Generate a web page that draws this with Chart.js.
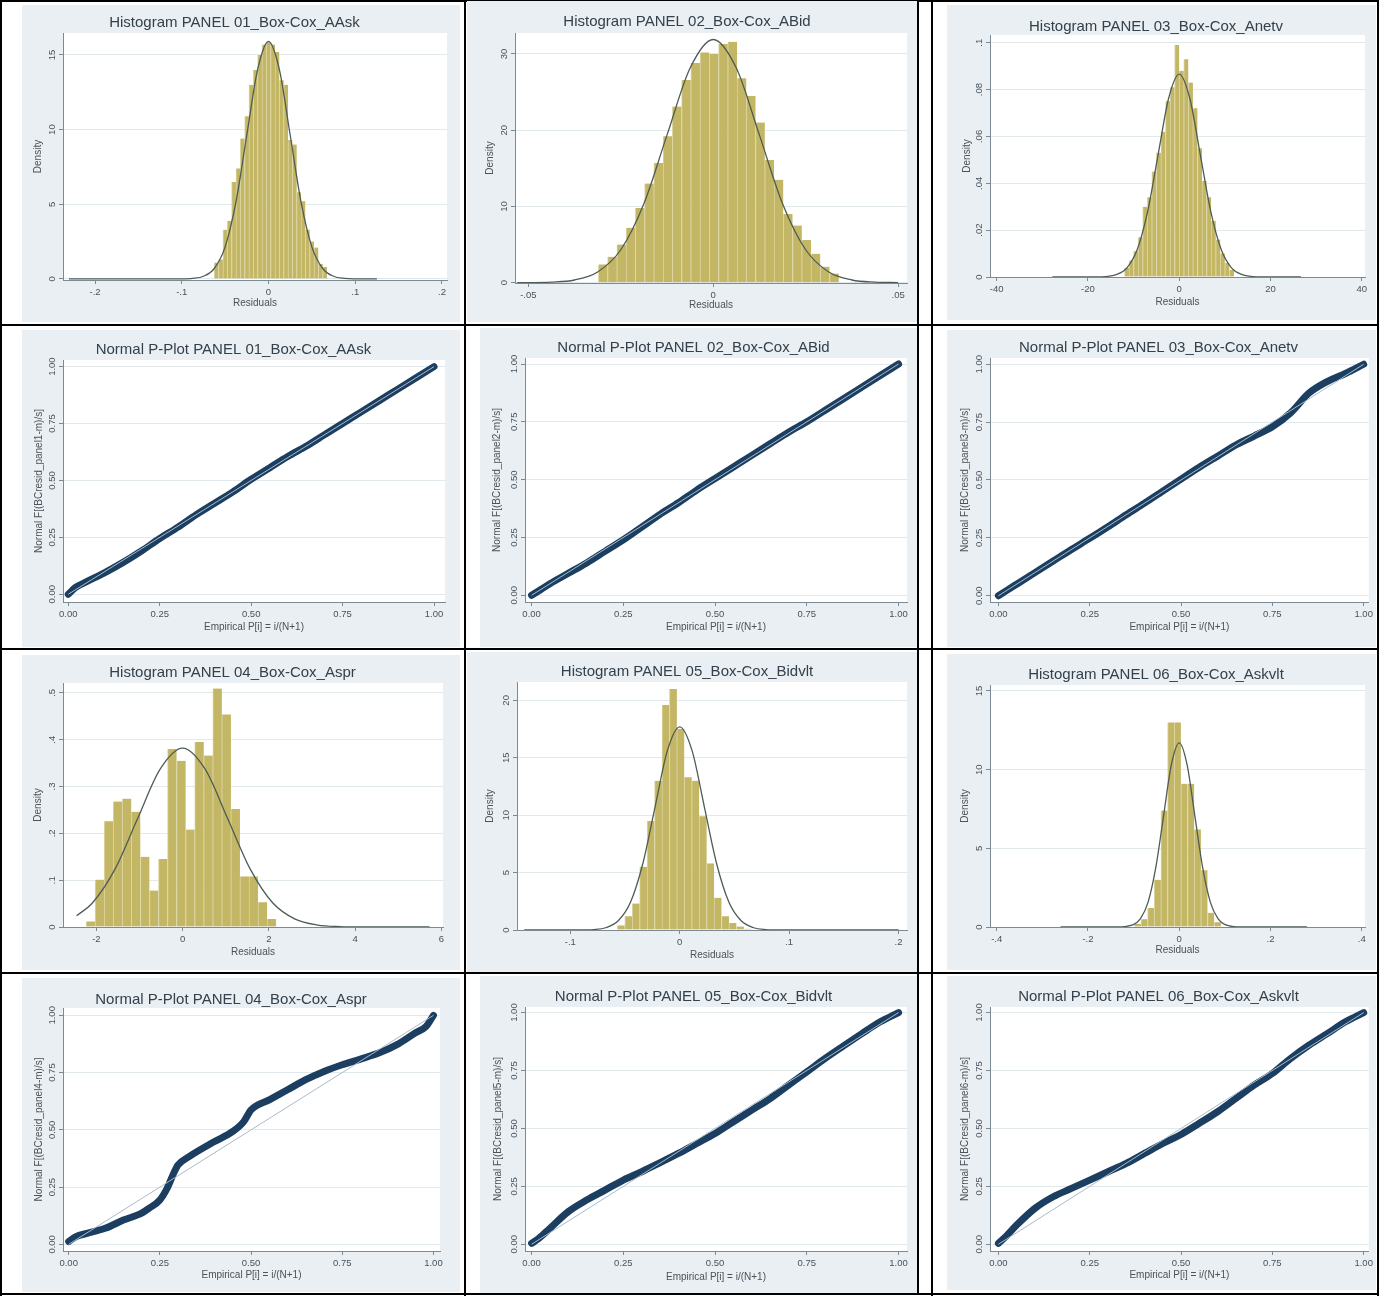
<!DOCTYPE html>
<html>
<head>
<meta charset="utf-8">
<title>Box-Cox residual diagnostics</title>
<script src="https://cdn.jsdelivr.net/npm/chart.js@4.4.1/dist/chart.umd.min.js"></script>
<style>
  html, body { margin: 0; padding: 0; background: #fff; }
  #page { position: relative; width: 1384px; height: 1296px; overflow: hidden; background: #fff; }
  .rule { position: absolute; background: #000; }
  .panel { position: absolute; background: #e9eff2; }
  .panel canvas { display: block; }
</style>
</head>
<body>
<div id="page"></div>
<script>
// ---- histogram data (bar centres, densities) and fitted normal curve ----
const hist1Centers = [-0.060, -0.055, -0.050, -0.045, -0.040, -0.035, -0.030, -0.025, -0.020, -0.015, -0.010, -0.005, 0, 0.005, 0.010, 0.015, 0.020, 0.025, 0.030, 0.035, 0.040, 0.045, 0.050, 0.055, 0.060, 0.065];
const hist1Density = [1.1, 1.3, 3.3, 3.9, 6.5, 7.4, 9.4, 10.9, 13.0, 14.0, 15.0, 15.7, 15.8, 15.7, 15.2, 13.3, 13.0, 9.3, 9.0, 5.8, 5.2, 3.3, 2.5, 2.1, 1.0, 0.8];
const curve1X = [-0.23, -0.1, -0.0875, -0.075, -0.0625, -0.05, -0.0375, -0.025, -0.0125, 0, 0.0125, 0.025, 0.0375, 0.05, 0.0625, 0.075, 0.0875, 0.1, 0.125];
const curve1Y = [0, 0.005, 0.035, 0.18, 0.70, 2.15, 5.16, 9.64, 14.03, 15.9, 14.03, 9.64, 5.16, 2.15, 0.70, 0.18, 0.035, 0.005, 0];

const hist2Centers = [-0.0298, -0.0273, -0.0248, -0.0223, -0.0198, -0.0173, -0.0148, -0.0123, -0.0098, -0.0073, -0.0048, -0.0023, 0.0002, 0.0027, 0.0052, 0.0077, 0.0102, 0.0127, 0.0152, 0.0177, 0.0202, 0.0227, 0.0252, 0.0277, 0.0302, 0.0327];
const hist2Density = [2.4, 3.4, 5.0, 7.2, 9.8, 13.0, 15.7, 19.2, 23.1, 26.6, 28.8, 30.2, 30.0, 31.3, 31.6, 26.8, 24.5, 21.0, 16.1, 13.5, 9.0, 7.5, 5.6, 3.8, 2.1, 1.2];
const curve2X = [-0.053, -0.05, -0.04375, -0.0375, -0.03125, -0.025, -0.01875, -0.0125, -0.00625, 0, 0.00625, 0.0125, 0.01875, 0.025, 0.03125, 0.0375, 0.04375, 0.05];
const curve2Y = [0.002, 0.011, 0.070, 0.354, 1.40, 4.32, 10.36, 19.35, 28.15, 31.9, 28.15, 19.35, 10.36, 4.32, 1.40, 0.354, 0.070, 0.011];

const hist3Centers = [-11.5, -10.5, -9.5, -8.5, -7.5, -6.5, -5.5, -4.5, -3.5, -2.5, -1.5, -0.5, 0.5, 1.5, 2.5, 3.5, 4.5, 5.5, 6.5, 7.5, 8.5, 9.5, 10.5, 11.5];
const hist3Density = [0.004, 0.007, 0.011, 0.017, 0.030, 0.034, 0.045, 0.053, 0.062, 0.075, 0.081, 0.099, 0.088, 0.093, 0.083, 0.072, 0.055, 0.041, 0.034, 0.024, 0.016, 0.010, 0.006, 0.003];
const curve3X = [-27.8, -18.4, -16.1, -13.8, -11.5, -9.2, -6.9, -4.6, -2.3, 0, 2.3, 4.6, 6.9, 9.2, 11.5, 13.8, 16.1, 18.4, 26.7];
const curve3Y = [0, 0.00003, 0.0002, 0.001, 0.0038, 0.0117, 0.0281, 0.0525, 0.0764, 0.0866, 0.0764, 0.0525, 0.0281, 0.0117, 0.0038, 0.001, 0.0002, 0.00003, 0];

const hist4Centers = [-2.135, -1.925, -1.715, -1.505, -1.295, -1.085, -0.875, -0.665, -0.455, -0.245, -0.035, 0.175, 0.385, 0.595, 0.805, 1.015, 1.225, 1.435, 1.645, 1.855, 2.065];
const hist4Density = [0.012, 0.101, 0.226, 0.268, 0.274, 0.246, 0.150, 0.078, 0.145, 0.380, 0.355, 0.208, 0.395, 0.366, 0.509, 0.454, 0.252, 0.108, 0.108, 0.053, 0.017];
const curve4X = [-2.46, -2.088, -1.566, -1.044, -0.522, 0, 0.522, 1.044, 1.566, 2.088, 2.61, 3.132, 3.654, 4.176, 5.73];
const curve4Y = [0.024, 0.0517, 0.124, 0.2317, 0.337, 0.382, 0.337, 0.2317, 0.124, 0.0517, 0.0168, 0.0042, 0.00084, 0.00012, 0];

const hist5Centers = [-0.0536, -0.0468, -0.0400, -0.0332, -0.0264, -0.0196, -0.0128, -0.0060, 0.0008, 0.0076, 0.0144, 0.0212, 0.0280, 0.0348, 0.0416, 0.0484, 0.0552, 0.0620];
const hist5Density = [0.4, 1.2, 2.3, 5.5, 9.5, 13.0, 19.6, 21.0, 17.5, 13.3, 13.0, 9.9, 5.8, 2.8, 1.2, 0.6, 0.3, 0.1];
const curve5X = [-0.142, -0.0902, -0.0789, -0.0676, -0.0564, -0.0451, -0.0338, -0.0225, -0.0113, 0, 0.0113, 0.0225, 0.0338, 0.0451, 0.0564, 0.0676, 0.0789, 0.0902, 0.2];
const curve5Y = [0, 0.006, 0.039, 0.196, 0.777, 2.39, 5.75, 10.73, 15.62, 17.7, 15.62, 10.73, 5.75, 2.39, 0.777, 0.196, 0.039, 0.006, 0];

const hist6Centers = [-0.091, -0.0765, -0.062, -0.0474, -0.0328, -0.0182, -0.0036, 0.011, 0.0256, 0.0402, 0.0548, 0.0694, 0.084];
const hist6Density = [0.2, 0.5, 1.2, 3.0, 7.4, 13.0, 13.0, 9.1, 9.1, 6.2, 3.6, 0.9, 0.3];
const curve6X = [-0.26, -0.1364, -0.1194, -0.1023, -0.0853, -0.0682, -0.0512, -0.0341, -0.0171, 0, 0.0171, 0.0341, 0.0512, 0.0682, 0.0853, 0.1023, 0.1194, 0.1364, 0.28];
const curve6Y = [0, 0.004, 0.026, 0.130, 0.514, 1.58, 3.80, 7.10, 10.33, 11.7, 10.33, 7.10, 3.80, 1.58, 0.514, 0.130, 0.026, 0.004, 0];

// ---- normal probability plots: empirical P vs normal F ----
const ppEmpirical = [0, 0.02, 0.05, 0.1, 0.15, 0.2, 0.25, 0.3, 0.35, 0.4, 0.45, 0.5, 0.55, 0.6, 0.65, 0.7, 0.75, 0.8, 0.85, 0.9, 0.95, 1.0];
const pp1Normal = [0.0, 0.03, 0.055, 0.095, 0.14, 0.19, 0.245, 0.295, 0.35, 0.4, 0.45, 0.505, 0.555, 0.605, 0.65, 0.70, 0.75, 0.8, 0.85, 0.9, 0.95, 1.0];
const pp2Normal = [0.0, 0.02, 0.05, 0.095, 0.14, 0.19, 0.24, 0.295, 0.35, 0.4, 0.455, 0.505, 0.555, 0.605, 0.655, 0.705, 0.75, 0.8, 0.85, 0.9, 0.95, 1.0];
const pp3Normal = [0.0, 0.02, 0.05, 0.1, 0.15, 0.2, 0.248, 0.298, 0.35, 0.4, 0.452, 0.504, 0.555, 0.603, 0.651, 0.69, 0.73, 0.79, 0.875, 0.925, 0.96, 1.0];
const pp4Empirical = [0, 0.02, 0.05, 0.1, 0.15, 0.2, 0.22, 0.25, 0.27, 0.29, 0.3, 0.33, 0.4, 0.45, 0.48, 0.5, 0.55, 0.6, 0.65, 0.7, 0.75, 0.8, 0.85, 0.9, 0.95, 0.98, 1.0];
const pp4Normal = [0.012, 0.034, 0.048, 0.07, 0.106, 0.136, 0.157, 0.194, 0.245, 0.318, 0.347, 0.383, 0.449, 0.493, 0.536, 0.587, 0.631, 0.675, 0.719, 0.755, 0.784, 0.809, 0.835, 0.872, 0.923, 0.952, 1.0];
const pp5Normal = [0.004, 0.026, 0.069, 0.141, 0.191, 0.234, 0.277, 0.313, 0.352, 0.392, 0.435, 0.478, 0.529, 0.579, 0.629, 0.687, 0.744, 0.802, 0.856, 0.909, 0.96, 1.0];
const pp6Normal = [0.004, 0.033, 0.083, 0.155, 0.205, 0.241, 0.277, 0.313, 0.349, 0.392, 0.435, 0.474, 0.522, 0.572, 0.629, 0.687, 0.737, 0.802, 0.859, 0.909, 0.96, 1.0];
const refLine = [0, 1];

// ---- axis ticks ----
const ppTicks = [0, 0.25, 0.5, 0.75, 1];
const ppTickLabels = ['0.00', '0.25', '0.50', '0.75', '1.00'];
const hist1XTicks = [-0.2, -0.1, 0, 0.1, 0.2];
const hist1XLabels = ['-.2', '-.1', '0', '.1', '.2'];
const hist1YTicks = [0, 5, 10, 15];
const hist2XTicks = [-0.05, 0, 0.05];
const hist2XLabels = ['-.05', '0', '.05'];
const hist2YTicks = [0, 10, 20, 30];
const hist3XTicks = [-40, -20, 0, 20, 40];
const hist3YTicks = [0, 0.02, 0.04, 0.06, 0.08, 0.1];
const hist3YLabels = ['0', '.02', '.04', '.06', '.08', '.1'];
const hist4XTicks = [-2, 0, 2, 4, 6];
const hist4YTicks = [0, 0.1, 0.2, 0.3, 0.4, 0.5];
const hist4YLabels = ['0', '.1', '.2', '.3', '.4', '.5'];
const hist5XTicks = [-0.1, 0, 0.1, 0.2];
const hist5XLabels = ['-.1', '0', '.1', '.2'];
const hist5YTicks = [0, 5, 10, 15, 20];
const hist6XTicks = [-0.4, -0.2, 0, 0.2, 0.4];
const hist6XLabels = ['-.4', '-.2', '0', '.2', '.4'];
const hist6YTicks = [0, 5, 10, 15];

// ---- look ----
const FONT = '"Liberation Sans", Arial, Helvetica, sans-serif';
const TITLE_SIZE = 15;
const TICK_SIZE = 9.5;
const AXTITLE_SIZE = 10;
const TICK_LEN = 4;
const Y_LABEL_GAP = 11;
const AXIS_COLOR = '#7d8a93';
const GRID_COLOR = '#e1e9ed';
const TEXT_COLOR = '#4a525a';
const TITLE_COLOR = '#34404b';
const BAR_FILL = '#c3b665';
const BAR_EDGE = '#ddd5a0';
const CURVE_COLOR = '#4e5c55';
const PP_COLOR = '#1c3f61';
const REF_COLOR = '#a8bccb';

const pageEl = document.getElementById('page');
const measureCtx = document.createElement('canvas').getContext('2d');
function textWidth(s, size) {
    measureCtx.font = size + 'px ' + FONT;
    return measureCtx.measureText(s).width;
}

function addRule(x, y, w, h) {
    const d = document.createElement('div');
    d.className = 'rule';
    Object.assign(d.style, { left: x + 'px', top: y + 'px', width: w + 'px', height: h + 'px' });
    pageEl.appendChild(d);
}

function points(xs, ys) {
    return xs.map((x, i) => ({ x: x, y: ys[i] }));
}

// white plot region like Stata's plotregion
const plotRegionFill = {
    id: 'plotRegionFill',
    beforeDraw(chart) {
        const a = chart.chartArea;
        const ctx = chart.ctx;
        ctx.save();
        ctx.fillStyle = '#ffffff';
        ctx.fillRect(a.left, a.top, a.right - a.left, a.bottom - a.top);
        ctx.restore();
    }
};

function makePanel(p) {
    const [bx, by, bw, bh] = p.box;
    const [pl, pt, pr, pb] = p.plot;

    const wrap = document.createElement('div');
    wrap.className = 'panel';
    Object.assign(wrap.style, { left: bx + 'px', top: by + 'px', width: bw + 'px', height: bh + 'px' });
    const canvas = document.createElement('canvas');
    canvas.width = bw;
    canvas.height = bh;
    wrap.appendChild(canvas);
    pageEl.appendChild(wrap);

    const titleTop = (p.titleY - by) - TITLE_SIZE / 2;
    const titleBottom = Math.max(0, (pt - by) - TITLE_SIZE - titleTop);
    const axLH = AXTITLE_SIZE * 1.2;
    const xTitlePad = (by + bh) - p.xTitleY - axLH / 2;
    const yTitlePad = (p.yTitleX - bx) - axLH / 2;
    const widest = Math.max(...p.yLabels.map(s => textWidth(s, TICK_SIZE)));
    const yTickPad = Y_LABEL_GAP - TICK_LEN - widest / 2;

    const tickFont = { family: FONT, size: TICK_SIZE };
    const axTitleFont = { family: FONT, size: AXTITLE_SIZE };

    const config = {
        type: p.kind === 'hist' ? 'bar' : 'line',
        data: { datasets: p.datasets },
        options: {
            responsive: false,
            animation: false,
            events: [],
            layout: { padding: { left: 0, top: 0, bottom: 0, right: (bx + bw) - pr } },
            plugins: {
                legend: { display: false },
                tooltip: { enabled: false },
                title: {
                    display: true,
                    text: p.title,
                    color: TITLE_COLOR,
                    font: { family: FONT, size: TITLE_SIZE, weight: 'normal', lineHeight: 1 },
                    padding: { top: titleTop, bottom: titleBottom }
                }
            },
            scales: {
                x: {
                    type: 'linear',
                    min: p.xRange[0],
                    max: p.xRange[1],
                    offset: false,
                    afterBuildTicks: s => { s.ticks = p.xTicks.map(v => ({ value: v })); },
                    afterFit: s => { s.height = (by + bh) - pb; },
                    ticks: {
                        autoSkip: false, maxRotation: 0, color: TEXT_COLOR, font: tickFont, padding: 3,
                        callback: (v, i) => p.xLabels[i]
                    },
                    grid: { offset: false, drawOnChartArea: false, drawTicks: true, tickLength: TICK_LEN, tickColor: AXIS_COLOR },
                    border: { display: true, color: AXIS_COLOR },
                    title: { display: true, text: p.xTitle, color: TEXT_COLOR, font: axTitleFont, padding: { top: 0, bottom: xTitlePad } }
                },
                y: {
                    type: 'linear',
                    min: p.yRange[0],
                    max: p.yRange[1],
                    afterBuildTicks: s => { s.ticks = p.yTicks.map(v => ({ value: v })); },
                    afterFit: s => { s.width = pl - bx; },
                    ticks: {
                        autoSkip: false, minRotation: 90, maxRotation: 90, crossAlign: 'center',
                        color: TEXT_COLOR, font: tickFont, padding: yTickPad,
                        callback: (v, i) => p.yLabels[i]
                    },
                    grid: { color: GRID_COLOR, drawTicks: true, tickLength: TICK_LEN, tickColor: AXIS_COLOR },
                    border: { display: true, color: AXIS_COLOR },
                    title: { display: true, text: p.yTitle, color: TEXT_COLOR, font: axTitleFont, padding: { top: yTitlePad, bottom: 0 } }
                }
            }
        },
        plugins: [plotRegionFill]
    };
    return new Chart(canvas.getContext('2d'), config);
}

function histDatasets(centers, density, cx, cy) {
    return [
        {
            type: 'line', data: points(cx, cy), order: 0,
            borderColor: CURVE_COLOR, borderWidth: 1.3, pointRadius: 0,
            cubicInterpolationMode: 'monotone', fill: false
        },
        {
            type: 'bar', data: points(centers, density), order: 1,
            backgroundColor: BAR_FILL, borderColor: BAR_EDGE,
            borderWidth: { left: 1, right: 0, top: 0, bottom: 0 }, borderSkipped: false,
            barPercentage: 1, categoryPercentage: 1
        }
    ];
}

function ppDatasets(xs, ys) {
    return [
        {
            data: points(refLine, refLine), order: 0,
            borderColor: REF_COLOR, borderWidth: 1, pointRadius: 0, fill: false
        },
        {
            data: points(xs, ys), order: 1,
            borderColor: PP_COLOR, borderWidth: 7, pointRadius: 0, fill: false,
            cubicInterpolationMode: 'monotone', borderCapStyle: 'round', borderJoinStyle: 'round'
        }
    ];
}

// ---- table rules ----
addRule(0, 0, 1379, 2);
addRule(0, 324, 1379, 2);
addRule(0, 648, 1379, 2);
addRule(0, 972, 1379, 2);
addRule(0, 1293, 1379, 2);
addRule(0, 0, 2, 1296);
addRule(464, 0, 2, 1296);
addRule(931, 0, 2, 1296);
addRule(1377, 0, 2, 1296);

const histX = 'Residuals', histY = 'Density';
const ppX = 'Empirical P[i] = i/(N+1)';
const numLabels = arr => arr.map(v => String(v));

const panels = [
    { kind: 'hist', title: 'Histogram PANEL 01_Box-Cox_AAsk', box: [22, 5, 438, 317], plot: [63, 33, 447, 280],
      titleY: 23, xTitleY: 303, yTitleX: 38, xRange: [-0.2369, 0.2058], yRange: [-0.07, 16.47],
      xTicks: hist1XTicks, xLabels: hist1XLabels, yTicks: hist1YTicks, yLabels: numLabels(hist1YTicks),
      xTitle: histX, yTitle: histY, datasets: histDatasets(hist1Centers, hist1Density, curve1X, curve1Y) },
    { kind: 'hist', title: 'Histogram PANEL 02_Box-Cox_ABid', box: [467, 1, 450, 321], plot: [515, 33, 907, 283],
      titleY: 22, xTitleY: 305, yTitleX: 490, xRange: [-0.0536, 0.0524], yRange: [-0.04, 32.75],
      xTicks: hist2XTicks, xLabels: hist2XLabels, yTicks: hist2YTicks, yLabels: numLabels(hist2YTicks),
      xTitle: histX, yTitle: histY, datasets: histDatasets(hist2Centers, hist2Density, curve2X, curve2Y) },
    { kind: 'hist', title: 'Histogram PANEL 03_Box-Cox_Anetv', box: [947, 5, 429, 315], plot: [990, 35, 1365, 277],
      titleY: 27, xTitleY: 302, yTitleX: 967, xRange: [-41.47, 40.72], yRange: [0, 0.1033],
      xTicks: hist3XTicks, xLabels: numLabels(hist3XTicks), yTicks: hist3YTicks, yLabels: hist3YLabels,
      xTitle: histX, yTitle: histY, datasets: histDatasets(hist3Centers, hist3Density, curve3X, curve3Y) },

    { kind: 'pp', title: 'Normal P-Plot PANEL 01_Box-Cox_AAsk', box: [22, 330, 438, 317], plot: [63, 360, 445, 602],
      titleY: 350, xTitleY: 627, yTitleX: 39, xRange: [-0.0145, 1.03], yRange: [-0.034, 1.029],
      xTicks: ppTicks, xLabels: ppTickLabels, yTicks: ppTicks, yLabels: ppTickLabels,
      xTitle: ppX, yTitle: 'Normal F[(BCresid_panel1-m)/s]', datasets: ppDatasets(ppEmpirical, pp1Normal) },
    { kind: 'pp', title: 'Normal P-Plot PANEL 02_Box-Cox_ABid', box: [480, 328, 437, 319], plot: [525, 358, 907, 602],
      titleY: 348, xTitleY: 627, yTitleX: 497, xRange: [-0.018, 1.023], yRange: [-0.029, 1.026],
      xTicks: ppTicks, xLabels: ppTickLabels, yTicks: ppTicks, yLabels: ppTickLabels,
      xTitle: ppX, yTitle: 'Normal F[(BCresid_panel2-m)/s]', datasets: ppDatasets(ppEmpirical, pp2Normal) },
    { kind: 'pp', title: 'Normal P-Plot PANEL 03_Box-Cox_Anetv', box: [947, 330, 429, 317], plot: [990, 358, 1370, 602],
      titleY: 348, xTitleY: 627, yTitleX: 965, xRange: [-0.023, 1.014], yRange: [-0.027, 1.027],
      xTicks: ppTicks, xLabels: ppTickLabels, yTicks: ppTicks, yLabels: ppTickLabels,
      xTitle: ppX, yTitle: 'Normal F[(BCresid_panel3-m)/s]', datasets: ppDatasets(ppEmpirical, pp3Normal) },

    { kind: 'hist', title: 'Histogram PANEL 04_Box-Cox_Aspr', box: [22, 655, 438, 315], plot: [63, 683, 443, 927],
      titleY: 673, xTitleY: 952, yTitleX: 38, xRange: [-2.775, 6.04], yRange: [0, 0.521],
      xTicks: hist4XTicks, xLabels: numLabels(hist4XTicks), yTicks: hist4YTicks, yLabels: hist4YLabels,
      xTitle: histX, yTitle: histY, datasets: histDatasets(hist4Centers, hist4Density, curve4X, curve4Y) },
    { kind: 'hist', title: 'Histogram PANEL 05_Box-Cox_Bidvlt', box: [467, 652, 450, 320], plot: [517, 682, 907, 930],
      titleY: 672, xTitleY: 955, yTitleX: 490, xRange: [-0.1487, 0.2077], yRange: [0, 21.6],
      xTicks: hist5XTicks, xLabels: hist5XLabels, yTicks: hist5YTicks, yLabels: numLabels(hist5YTicks),
      xTitle: histX, yTitle: histY, datasets: histDatasets(hist5Centers, hist5Density, curve5X, curve5Y) },
    { kind: 'hist', title: 'Histogram PANEL 06_Box-Cox_Askvlt', box: [947, 654, 429, 316], plot: [990, 685, 1365, 927],
      titleY: 675, xTitleY: 950, yTitleX: 965, xRange: [-0.4147, 0.4072], yRange: [0, 15.38],
      xTicks: hist6XTicks, xLabels: hist6XLabels, yTicks: hist6YTicks, yLabels: numLabels(hist6YTicks),
      xTitle: histX, yTitle: histY, datasets: histDatasets(hist6Centers, hist6Density, curve6X, curve6Y) },

    { kind: 'pp', title: 'Normal P-Plot PANEL 04_Box-Cox_Aspr', box: [22, 978, 438, 314], plot: [63, 1008, 440, 1251],
      titleY: 1000, xTitleY: 1275, yTitleX: 39, xRange: [-0.0156, 1.018], yRange: [-0.029, 1.032],
      xTicks: ppTicks, xLabels: ppTickLabels, yTicks: ppTicks, yLabels: ppTickLabels,
      xTitle: ppX, yTitle: 'Normal F[(BCresid_panel4-m)/s]', datasets: ppDatasets(pp4Empirical, pp4Normal) },
    { kind: 'pp', title: 'Normal P-Plot PANEL 05_Box-Cox_Bidvlt', box: [480, 976, 437, 317], plot: [525, 1007, 907, 1251],
      titleY: 997, xTitleY: 1277, yTitleX: 498, xRange: [-0.018, 1.023], yRange: [-0.029, 1.024],
      xTicks: ppTicks, xLabels: ppTickLabels, yTicks: ppTicks, yLabels: ppTickLabels,
      xTitle: ppX, yTitle: 'Normal F[(BCresid_panel5-m)/s]', datasets: ppDatasets(ppEmpirical, pp5Normal) },
    { kind: 'pp', title: 'Normal P-Plot PANEL 06_Box-Cox_Askvlt', box: [947, 976, 429, 314], plot: [990, 1007, 1370, 1251],
      titleY: 997, xTitleY: 1275, yTitleX: 965, xRange: [-0.023, 1.014], yRange: [-0.029, 1.024],
      xTicks: ppTicks, xLabels: ppTickLabels, yTicks: ppTicks, yLabels: ppTickLabels,
      xTitle: ppX, yTitle: 'Normal F[(BCresid_panel6-m)/s]', datasets: ppDatasets(ppEmpirical, pp6Normal) }
];

panels.forEach(makePanel);

// middle column images carry their own right edge
addRule(917, 0, 2, 324);
addRule(917, 326, 2, 322);
addRule(917, 650, 2, 322);
addRule(917, 974, 2, 320);
</script>
</body>
</html>
